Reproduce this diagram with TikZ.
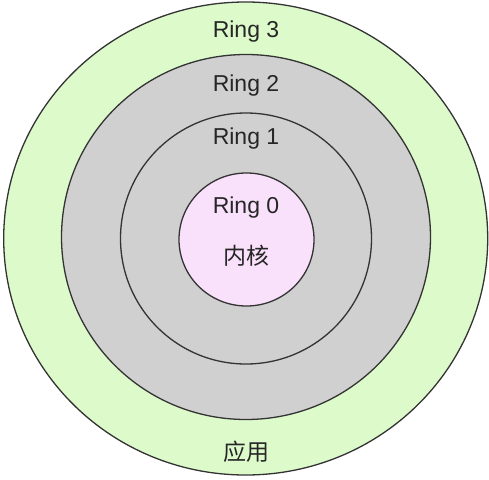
\documentclass[tikz,border=0pt]{standalone}
\usepackage{fontspec}
\setmainfont{Liberation Sans}
\newfontfamily\cjk{Noto Sans CJK SC}
\usetikzlibrary{shapes.geometric}
\definecolor{ringgreen}{HTML}{DDFACB}
\definecolor{ringgray}{HTML}{D0D0D0}
\definecolor{ringpink}{HTML}{FAE1FB}
\definecolor{ringline}{HTML}{333333}
\tikzset{
  ringshape/.style={ellipse, draw=ringline, line width=1.3pt, inner sep=0pt},
  ringlabel/.style={font=\fontsize{23}{26}\selectfont, text=black!85, inner sep=0pt},
  cjklabel/.style={font=\cjk\fontsize{23}{26}\selectfont, text=black!85, inner sep=0pt}
}
\begin{document}
\begin{tikzpicture}[x=1pt,y=-1pt]
\fill[white] (0,0) rectangle (489,479);
\useasboundingbox (0,0) rectangle (489,479);
\node[ringshape, fill=ringgreen, minimum width=484pt, minimum height=473pt] (r3) at (245.7,238.5) {};
\node[ringshape, fill=ringgray, minimum width=369pt, minimum height=365pt] (r2) at (246,237) {};
\node[ringshape, fill=ringgray, minimum width=251pt, minimum height=251pt] (r1) at (246,238.5) {};
\node[ringshape, fill=ringpink, minimum width=135pt, minimum height=133pt] (r0) at (246.5,239.5) {};
\node[ringlabel] (t3) at (246,32) {Ring 3};
\node[ringlabel] (t2) at (246,86) {Ring 2};
\node[ringlabel] (t1) at (246,139) {Ring 1};
\node[ringlabel] (t0) at (246,208) {Ring 0};
\node[cjklabel] (tk) at (246,256) {内核};
\node[cjklabel] (ta) at (246,452) {应用};
\end{tikzpicture}
\end{document}
